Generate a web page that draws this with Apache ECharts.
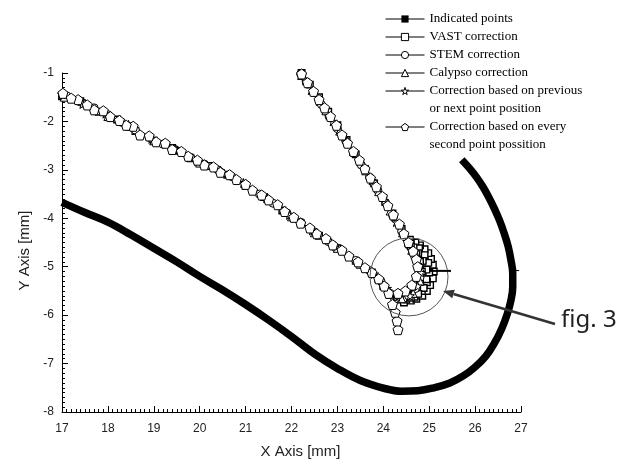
<!DOCTYPE html>
<html>
<head>
<meta charset="utf-8">
<script src="https://cdn.jsdelivr.net/npm/echarts@6/dist/echarts.min.js"></script>
<style>
html, body { margin: 0; padding: 0; background: #fff; }
#main { width: 628px; height: 462px; }
</style>
</head>
<body>
<div id="main"></div>
<script>
// axis ranges
var xRange = [17, 27];
var yRange = [-8, -1];

var seriesNames = [
    'Indicated points',
    'VAST correction',
    'STEM correction',
    'Calypso correction',
    'Correction based on previous\nor next point position',
    'Correction based on every\nsecond point possition'
];

// Indicated points (outer thick curve)
var indicated = [
    [17, -3.67], [17.5, -3.88], [18, -4.08], [18.5, -4.34], [19, -4.62], [19.5, -4.9],
    [20, -5.2], [20.5, -5.48], [21, -5.78], [21.5, -6.1], [22, -6.44], [22.5, -6.8],
    [23, -7.1], [23.5, -7.35], [24.05, -7.52], [24.4, -7.57], [24.75, -7.56], [25.1, -7.5],
    [25.45, -7.4], [25.75, -7.25], [26.0, -7.07], [26.23, -6.85], [26.42, -6.58],
    [26.58, -6.28], [26.7, -5.98], [26.78, -5.7], [26.82, -5.42], [26.82, -5.14],
    [26.78, -4.86], [26.72, -4.58], [26.63, -4.3], [26.53, -4.04], [26.42, -3.8],
    [26.3, -3.57], [26.17, -3.35], [26.03, -3.15], [25.88, -2.97], [25.71, -2.79]
];

// VAST correction (squares)
var vast = [
    [17.0, -1.48], [17.4, -1.58], [17.8, -1.8], [18.2, -1.96], [18.6, -2.2], [19.0, -2.4],
    [19.4, -2.55], [19.8, -2.76], [20.2, -2.92], [20.6, -3.1], [21.0, -3.33], [21.4, -3.56],
    [21.8, -3.84], [22.2, -4.1], [22.6, -4.36], [23.0, -4.62], [23.4, -4.88], [23.75, -5.12],
    [24.0, -5.4], [24.15, -5.58], [24.3, -5.68], [24.45, -5.74], [24.6, -5.7], [24.72, -5.66],
    [24.85, -5.6], [24.95, -5.5], [25.02, -5.38], [25.08, -5.24], [25.1, -5.1], [25.08, -4.96],
    [25.04, -4.84], [24.98, -4.72], [24.9, -4.64], [24.8, -4.56], [24.7, -4.5], [24.58, -4.44],
    [24.68, -4.66], [24.8, -4.82], [24.88, -5.0], [24.9, -5.18], [24.84, -5.36], [24.72, -5.5],
    [24.56, -5.58], [24.4, -5.6],
    [24.5, -5.68], [24.68, -5.62], [24.84, -5.5], [24.95, -5.32], [25.0, -5.12], [24.98, -4.92],
    [24.9, -4.76], [24.78, -4.62], [24.6, -4.52],
    [24.66, -4.6], [24.76, -4.72], [24.86, -4.88], [24.94, -5.06], [24.94, -5.26], [24.88, -5.44],
    [24.76, -5.56], [24.6, -5.64], [24.44, -5.66], [24.36, -5.6],
    [24.52, -5.52], [24.68, -5.44], [24.8, -5.3], [24.84, -5.1], [24.8, -4.9], [24.72, -4.74],
    [24.6, -4.58],
    [24.4, -4.22], [24.2, -3.9], [24.0, -3.58], [23.8, -3.28], [23.6, -2.98], [23.4, -2.68],
    [23.2, -2.38], [23.0, -2.08], [22.8, -1.8], [22.6, -1.5], [22.4, -1.24], [22.22, -1.0]
];

// STEM correction (circles)
var stem = [
    [17.1, -1.47], [17.4, -1.6], [17.7, -1.72], [18.0, -1.86], [18.3, -2.02], [18.6, -2.18],
    [18.9, -2.33], [19.2, -2.47], [19.5, -2.6], [19.8, -2.74], [20.1, -2.88], [20.4, -3.0],
    [20.7, -3.14], [21.0, -3.31], [21.3, -3.5], [21.6, -3.69], [21.9, -3.89], [22.2, -4.08],
    [22.5, -4.28], [22.8, -4.48], [23.1, -4.67], [23.4, -4.87], [23.7, -5.08], [23.95, -5.3],
    [24.15, -5.55], [24.35, -5.64], [24.55, -5.6], [24.7, -5.45], [24.8, -5.22], [24.78, -5.0],
    [24.68, -4.78], [24.55, -4.55], [24.4, -4.27], [24.22, -3.97], [24.05, -3.68], [23.88, -3.42],
    [23.7, -3.15], [23.52, -2.9], [23.35, -2.64], [23.18, -2.4], [23.0, -2.15], [22.82, -1.9],
    [22.65, -1.65], [22.48, -1.4], [22.32, -1.18], [22.2, -1.02]
];

// Calypso correction (triangles)
var calypso = [
    [17.05, -1.5], [17.5, -1.62], [18.0, -1.9], [18.5, -2.1], [19.0, -2.4], [19.5, -2.58],
    [20.0, -2.86], [20.5, -3.05], [21.0, -3.28], [21.5, -3.6], [22.0, -3.97], [22.5, -4.3],
    [23.0, -4.62], [23.5, -4.95], [23.9, -5.24], [24.12, -5.5], [24.4, -5.66], [24.65, -5.55],
    [24.8, -5.3], [24.8, -5.02], [24.62, -4.66], [24.42, -4.3], [24.15, -3.85], [23.9, -3.45],
    [23.62, -3.02], [23.35, -2.62], [23.05, -2.2], [22.75, -1.78], [22.45, -1.36], [22.22, -1.05]
];

// Correction based on previous or next point position (stars)
var prevNext = [
    [17.0, -1.44], [17.45, -1.64], [17.95, -1.84], [18.45, -2.07], [18.95, -2.36], [19.45, -2.56],
    [19.95, -2.82], [20.45, -3.02], [20.95, -3.27], [21.45, -3.58], [21.95, -3.93], [22.45, -4.25],
    [22.95, -4.57], [23.45, -4.9], [23.8, -5.15], [24.08, -5.45], [24.3, -5.62], [24.58, -5.6],
    [24.75, -5.4], [24.82, -5.12], [24.72, -4.86], [24.52, -4.48], [24.28, -4.08], [24.02, -3.64],
    [23.75, -3.22], [23.48, -2.82], [23.2, -2.42], [22.9, -2.0], [22.6, -1.58], [22.3, -1.15]
];

// Correction based on every second point position (pentagons)
var everySecond = [
    [24.32, -6.3], [24.3, -6.12], [24.26, -5.94], [24.2, -5.78],
    [24.12, -5.55], [24.02, -5.4], [23.9, -5.25], [23.75, -5.12], [23.6, -5.02], [23.45, -4.9],
    [23.25, -4.78], [23.1, -4.66], [22.9, -4.55], [22.75, -4.42], [22.55, -4.32], [22.4, -4.2],
    [22.2, -4.1], [22.05, -3.98], [21.85, -3.86], [21.7, -3.72], [21.5, -3.62], [21.35, -3.52],
    [21.15, -3.42], [21.0, -3.3], [20.8, -3.2], [20.65, -3.1], [20.45, -3.05], [20.3, -2.94],
    [20.1, -2.9], [19.95, -2.8], [19.75, -2.72], [19.6, -2.62], [19.4, -2.58], [19.25, -2.45],
    [19.05, -2.42], [18.9, -2.3], [18.7, -2.28], [18.55, -2.1], [18.4, -2.08], [18.25, -1.98],
    [18.05, -1.9], [17.9, -1.78], [17.7, -1.76], [17.55, -1.66], [17.35, -1.55], [17.2, -1.52],
    [17.02, -1.42],
    '-',
    [22.22, -1.02], [22.35, -1.2], [22.48, -1.38], [22.6, -1.55], [22.72, -1.72], [22.85, -1.9],
    [22.98, -2.08], [23.1, -2.28], [23.22, -2.45], [23.35, -2.62], [23.48, -2.8], [23.6, -2.98],
    [23.72, -3.17], [23.85, -3.35], [23.98, -3.55], [24.1, -3.74], [24.22, -3.93], [24.35, -4.12],
    [24.45, -4.32], [24.55, -4.5], [24.65, -4.68], [24.72, -4.85], [24.75, -5.0], [24.72, -5.2],
    [24.62, -5.38], [24.48, -5.5], [24.32, -5.55]
];

// annotation anchors (data coords)
var ringCenter = [24.56, -5.21];
var arrowTip = [25.3, -5.5];
var curveMark = [26.83, -5.08];

var starPath = 'path://M50,0 L61,35 L98,35 L68,57 L79,91 L50,70 L21,91 L32,57 L2,35 L39,35 Z';
var pentPath = 'path://M50,0 L98,36 L80,95 L20,95 L2,36 Z';

var chartDom = document.getElementById('main');
var chart = echarts.init(chartDom, null, { renderer: 'canvas' });

function hollow(name, data, symbol, size, border) {
    return {
        name: name,
        type: 'line',
        data: data,
        symbol: symbol,
        symbolSize: size,
        showAllSymbol: true,
        connectNulls: false,
        lineStyle: { color: '#000', width: 1 },
        itemStyle: { color: '#fff', borderColor: '#000', borderWidth: border || 1 },
        emphasis: { disabled: true }
    };
}

var axisFont = { color: '#222', fontFamily: 'Liberation Sans', fontSize: 12 };
var legendText = { color: '#000', fontFamily: 'Liberation Serif', fontSize: 13, lineHeight: 18 };

// a blank first line keeps the icon level with the first line of a two-line name
function twoLine(name) {
    return name.indexOf('\n') >= 0 ? ' \n' + name : name;
}

var legendBase = {
    orient: 'vertical',
    left: 385,
    padding: 0,
    itemWidth: 39,
    itemHeight: 9,
    selectedMode: false,
    lineStyle: { width: 1, color: '#000' },
    itemStyle: { borderWidth: 1 },
    textStyle: legendText
};

var option = {
    animation: false,
    backgroundColor: '#fff',
    grid: { left: 62, right: 107, top: 73, bottom: 50, outerBoundsMode: 'none' },
    legend: [
        Object.assign({}, legendBase, {
            top: 10,
            itemGap: 0,
            data: seriesNames.slice(0, 4)
        }),
        Object.assign({}, legendBase, {
            top: 64,
            itemGap: -18,
            formatter: twoLine,
            data: seriesNames.slice(4)
        })
    ],
    xAxis: {
        type: 'value',
        min: xRange[0],
        max: xRange[1],
        interval: 1,
        name: 'X Axis [mm]',
        nameLocation: 'middle',
        nameGap: 32,
        nameTextStyle: { color: '#222', fontFamily: 'Liberation Sans', fontSize: 15, padding: [0, 0, 0, 18] },
        axisLine: { lineStyle: { color: '#000', width: 1 } },
        axisTick: { inside: true, length: 6, lineStyle: { color: '#000' } },
        minorTick: { show: true, splitNumber: 10, length: 3, lineStyle: { color: '#000' } },
        axisLabel: Object.assign({ margin: 11 }, axisFont),
        splitLine: { show: false }
    },
    yAxis: {
        type: 'value',
        min: yRange[0],
        max: yRange[1],
        interval: 1,
        name: 'Y Axis [mm]',
        nameLocation: 'middle',
        nameGap: 28,
        nameTextStyle: { color: '#222', fontFamily: 'Liberation Sans', fontSize: 15, padding: [0, 16, 0, 0] },
        axisLine: { show: true, lineStyle: { color: '#000', width: 1 } },
        axisTick: { show: true, inside: true, length: 6, lineStyle: { color: '#000' } },
        minorTick: { show: true, splitNumber: 10, length: 3, lineStyle: { color: '#000' } },
        axisLabel: Object.assign({ margin: 8 }, axisFont),
        splitLine: { show: false }
    },
    series: [
        {
            name: seriesNames[0],
            type: 'line',
            data: indicated,
            symbol: 'rect',
            symbolSize: 7,
            showSymbol: false,
            smooth: 0.4,
            lineStyle: { color: '#000', width: 7.5, join: 'round' },
            itemStyle: { color: '#000' },
            emphasis: { disabled: true },
            z: 2
        },
        hollow(seriesNames[1], vast, 'rect', 6.5, 1.4),
        hollow(seriesNames[2], stem, 'circle', 8),
        hollow(seriesNames[3], calypso, 'triangle', 8),
        hollow(seriesNames[4], prevNext, starPath, 9),
        hollow(seriesNames[5], everySecond, pentPath, 10)
    ]
};

chart.setOption(option);

// annotation: ring, pointer arrow and label
var c = chart.convertToPixel({ xAxisIndex: 0, yAxisIndex: 0 }, ringCenter);
var tip = chart.convertToPixel({ xAxisIndex: 0, yAxisIndex: 0 }, arrowTip);
var cm = chart.convertToPixel({ xAxisIndex: 0, yAxisIndex: 0 }, curveMark);
var tail = [555, 324];
var dx = tip[0] - tail[0], dy = tip[1] - tail[1];
var len = Math.sqrt(dx * dx + dy * dy);
var ux = dx / len, uy = dy / len;
var headLen = 11, headW = 4.5;
var baseX = tip[0] - ux * headLen, baseY = tip[1] - uy * headLen;

chart.setOption({
    graphic: [
        {
            type: 'circle',
            shape: { cx: c[0], cy: c[1], r: 39 },
            style: { fill: 'none', stroke: '#555', lineWidth: 1 },
            silent: true, z: 100
        },
        {
            type: 'line',
            shape: { x1: c[0] + 20, y1: c[1] - 6, x2: c[0] + 42, y2: c[1] - 6 },
            style: { stroke: '#000', lineWidth: 2 },
            silent: true, z: 100
        },
        {
            type: 'line',
            shape: { x1: cm[0] - 4, y1: cm[1], x2: cm[0] + 6, y2: cm[1] },
            style: { stroke: '#000', lineWidth: 1 },
            silent: true, z: 100
        },
        {
            type: 'line',
            shape: { x1: tail[0], y1: tail[1], x2: baseX, y2: baseY },
            style: { stroke: '#333', lineWidth: 2.5 },
            silent: true, z: 100
        },
        {
            type: 'polygon',
            shape: {
                points: [
                    [tip[0], tip[1]],
                    [baseX - uy * headW, baseY + ux * headW],
                    [baseX + uy * headW, baseY - ux * headW]
                ]
            },
            style: { fill: '#333' },
            silent: true, z: 100
        },
        {
            type: 'text',
            x: 561,
            y: 332,
            style: {
                text: 'fig. 3',
                fill: '#222',
                font: '24px "Noto Sans"',
                textVerticalAlign: 'bottom'
            },
            silent: true, z: 100
        }
    ]
});
</script>
</body>
</html>
